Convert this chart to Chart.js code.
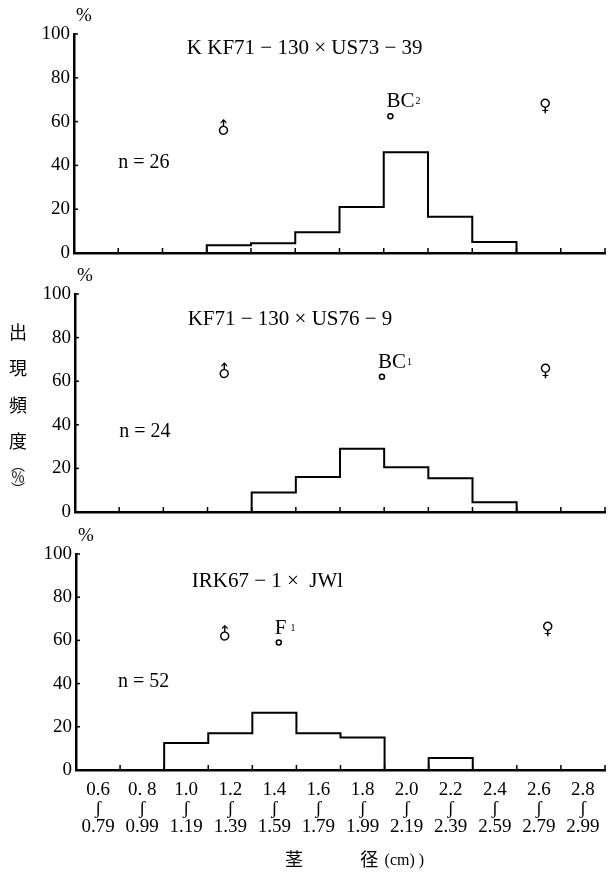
<!DOCTYPE html>
<html lang="ja">
<head>
<meta charset="utf-8">
<script src="https://cdn.jsdelivr.net/npm/chart.js@4.4.1/dist/chart.umd.min.js"></script>
<style>
  html, body { margin: 0; padding: 0; background: #fff; }
  #wrap { position: relative; width: 611px; height: 873px; overflow: hidden; }
  #wrap canvas { position: absolute; left: 0; top: 0; }
  #yTitle {
    position: absolute; left: 9px; top: 323px;
    writing-mode: vertical-rl; font-family: "Noto Sans CJK JP", sans-serif;
    font-size: 18px; line-height: 18px; letter-spacing: 18.5px; color: #000;
  }
  #yUnit {
    position: absolute; left: 11px; top: 458px;
    writing-mode: vertical-rl; font-family: "Noto Sans CJK JP", sans-serif;
    font-size: 14px; line-height: 14px; letter-spacing: -2px; color: #000;
  }
</style>
</head>
<body>
<div id="wrap">
  <canvas id="g1" width="611" height="873"></canvas>
  <canvas id="g2" width="611" height="873"></canvas>
  <canvas id="g3" width="611" height="873"></canvas>
  <div id="yTitle">出現頻度</div>
  <div id="yUnit">（％）</div>
</div>

<script>
// ---- datos ----
const binStarts = [0.6, 0.8, 1.0, 1.2, 1.4, 1.6, 1.8, 2.0, 2.2, 2.4, 2.6, 2.8];
const binEnd = 3.0;
const rangeFrom = ['0.6', '0. 8', '1.0', '1.2', '1.4', '1.6', '1.8', '2.0', '2.2', '2.4', '2.6', '2.8'];
const rangeTo = ['0.79', '0.99', '1.19', '1.39', '1.59', '1.79', '1.99', '2.19', '2.39', '2.59', '2.79', '2.99'];

// frecuencia (%) por clase, un panel cada una
const freqA = [0, 0, 0, 3.5, 4.5, 9.5, 21, 46, 16.5, 5, 0, 0];
const freqB = [0, 0, 0, 0, 9, 16, 29, 20.5, 15.5, 4.5, 0, 0];
const freqC = [0, 0, 12.5, 17, 26.5, 17, 15, 0, 5.5, 0, 0, 0];

// padres e híbridos (valor medio)
const maleX = [1.28, 1.28, 1.28];
const maleY = [56.5, 64, 62.5];
const femaleX = [2.73, 2.73, 2.74];
const femaleY = [67, 64.5, 65];
const hybridX = [2.03, 1.99, 1.52];
const hybridY = [62.5, 62, 59];
const hybridNames = ['BC', 'BC', 'F'];
const hybridSubs = ['2', '1', '1'];

const panelTitles = ['K KF71 − 130 × US73 − 39', 'KF71 − 130 × US76 − 9', 'IRK67 − 1 ×  JWl'];
const sampleSizes = [26, 24, 52];

// posiciones de textos (en unidades de los ejes)
const titlePos = [{ x: 1.11, y: 93.6 }, { x: 1.11, y: 88.2 }, { x: 1.125, y: 87.3 }];
const nPos = [{ x: 0.8, y: 41.2 }, { x: 0.8, y: 37 }, { x: 0.79, y: 41 }];
const xTitlePos = { y: -41.5, stem: 1.589, dia: 1.93, unit: 2.0 };

const SERIF = '"Liberation Serif", "DejaVu Serif", serif';
const SYM = '"DejaVu Sans", sans-serif';
const CJK = '"Noto Sans CJK JP", sans-serif';

function stepPoints(freq) {
    const pts = binStarts.map((x, i) => ({ x: x, y: freq[i] }));
    pts.push({ x: binEnd, y: 0 });
    return pts;
}

// textos, símbolos y marcas de graduación hacia dentro
function panelPlugin(idx, withXTitle) {
    return {
        id: 'panelText' + idx,
        afterDatasetsDraw(chart) {
            const { ctx, chartArea: area, scales: { x, y } } = chart;
            ctx.save();
            ctx.fillStyle = '#000';
            ctx.strokeStyle = '#000';

            // marcas de graduación
            ctx.lineWidth = 1.5;
            x.ticks.forEach(t => {
                if (t.value <= 0.61) return;
                const px = x.getPixelForValue(t.value);
                ctx.beginPath(); ctx.moveTo(px, area.bottom); ctx.lineTo(px, area.bottom - 5); ctx.stroke();
            });
            y.ticks.forEach(t => {
                if (t.value === 0) return;
                const py = y.getPixelForValue(t.value);
                ctx.beginPath(); ctx.moveTo(area.left, py); ctx.lineTo(area.left + 4, py); ctx.stroke();
            });

            // % sobre el eje
            ctx.font = '19px ' + SERIF;
            ctx.textAlign = 'center';
            ctx.textBaseline = 'middle';
            ctx.fillText('%', area.left + 10, area.top - 18);

            // título del cruce
            ctx.font = '21px ' + SERIF;
            ctx.textAlign = 'left';
            ctx.fillText(panelTitles[idx], x.getPixelForValue(titlePos[idx].x), y.getPixelForValue(titlePos[idx].y));

            // n
            ctx.font = '20px ' + SERIF;
            ctx.fillText('n = ' + sampleSizes[idx], x.getPixelForValue(nPos[idx].x), y.getPixelForValue(nPos[idx].y));

            // ♂ y ♀
            const male = chart.getDatasetMeta(2).data[0];
            const female = chart.getDatasetMeta(3).data[0];
            ctx.font = '17px ' + SYM;
            ctx.textAlign = 'center';
            ctx.save();
            ctx.translate(male.x, male.y);
            ctx.rotate(-Math.PI / 4);
            ctx.fillText('♂', 0, 0);
            ctx.restore();
            ctx.fillText('♀', female.x, female.y);

            // título del eje x (茎径 (cm))
            if (withXTitle) {
                const ty = y.getPixelForValue(xTitlePos.y);
                ctx.font = '18px ' + CJK;
                ctx.fillText('茎', x.getPixelForValue(xTitlePos.stem), ty);
                ctx.fillText('径', x.getPixelForValue(xTitlePos.dia), ty);
                ctx.font = '16px ' + SERIF;
                ctx.textAlign = 'left';
                ctx.fillText('(cm) )', x.getPixelForValue(xTitlePos.unit), ty + 1);
            }

            // etiqueta del híbrido
            const hyb = chart.getDatasetMeta(1).data[0];
            ctx.font = '21px ' + SERIF;
            ctx.textAlign = 'left';
            ctx.textBaseline = 'alphabetic';
            const lx = hyb.x - 4, ly = hyb.y - 9;
            ctx.fillText(hybridNames[idx], lx, ly);
            const w = ctx.measureText(hybridNames[idx]).width;
            ctx.font = '10px ' + SERIF;
            ctx.fillText(hybridSubs[idx], lx + w + (idx === 2 ? 4 : 1), ly - 3);

            ctx.restore();
        }
    };
}

function makePanel(canvasId, idx, freq, area, showLabels) {
    const xScale = {
        type: 'linear',
        min: 0.6,
        max: binEnd,
        ticks: { display: false, stepSize: 0.2 },
        grid: { display: false, drawTicks: false },
        border: { display: true, color: '#000', width: 2.5 },
        afterFit: s => { s.height = 0; }
    };
    const scales = {
        x: xScale,
        y: {
            min: 0,
            max: 100,
            ticks: { stepSize: 20, color: '#000', padding: 4, font: { family: SERIF, size: 19 } },
            grid: { display: false, drawTicks: false },
            border: { display: true, color: '#000', width: 2.5 },
            afterFit: s => { s.width = area.left; }
        }
    };
    if (showLabels) {
        scales.xc = {
            type: 'category',
            position: 'bottom',
            weight: 1,
            offset: true,
            labels: rangeFrom.map((a, i) => [a, 'ʃ', rangeTo[i]]),
            grid: { display: false, drawTicks: false },
            border: { display: false },
            ticks: {
                color: '#000', padding: 11, maxRotation: 0, autoSkip: false,
                font: { family: SERIF, size: 19, lineHeight: 0.97 }
            },
            afterFit: s => { s.height = 873 - area.bottom; }
        };
    }

    return new Chart(document.getElementById(canvasId), {
        type: 'scatter',
        data: {
            datasets: [
                {
                    data: stepPoints(freq),
                    showLine: true,
                    stepped: 'before',
                    borderColor: '#000',
                    borderWidth: 2,
                    pointRadius: 0,
                    clip: false
                },
                {
                    data: [{ x: hybridX[idx], y: hybridY[idx] }],
                    pointRadius: 2.5,
                    borderWidth: 1.5,
                    borderColor: '#000',
                    backgroundColor: '#fff'
                },
                { data: [{ x: maleX[idx], y: maleY[idx] }], pointRadius: 0 },
                { data: [{ x: femaleX[idx], y: femaleY[idx] }], pointRadius: 0 }
            ]
        },
        options: {
            responsive: false,
            animation: false,
            layout: {
                padding: {
                    left: 0,
                    right: 611 - area.right,
                    top: area.top,
                    bottom: showLabels ? 0 : 873 - area.bottom
                }
            },
            plugins: { legend: { display: false }, tooltip: { enabled: false } },
            scales: scales
        },
        plugins: [panelPlugin(idx, showLabels)]
    });
}

makePanel('g1', 0, freqA, { left: 74, right: 605, top: 34, bottom: 253 }, false);
makePanel('g2', 1, freqB, { left: 75, right: 605, top: 294, bottom: 512 }, false);
makePanel('g3', 2, freqC, { left: 76, right: 605, top: 554, bottom: 770 }, true);
</script>
</body>
</html>
